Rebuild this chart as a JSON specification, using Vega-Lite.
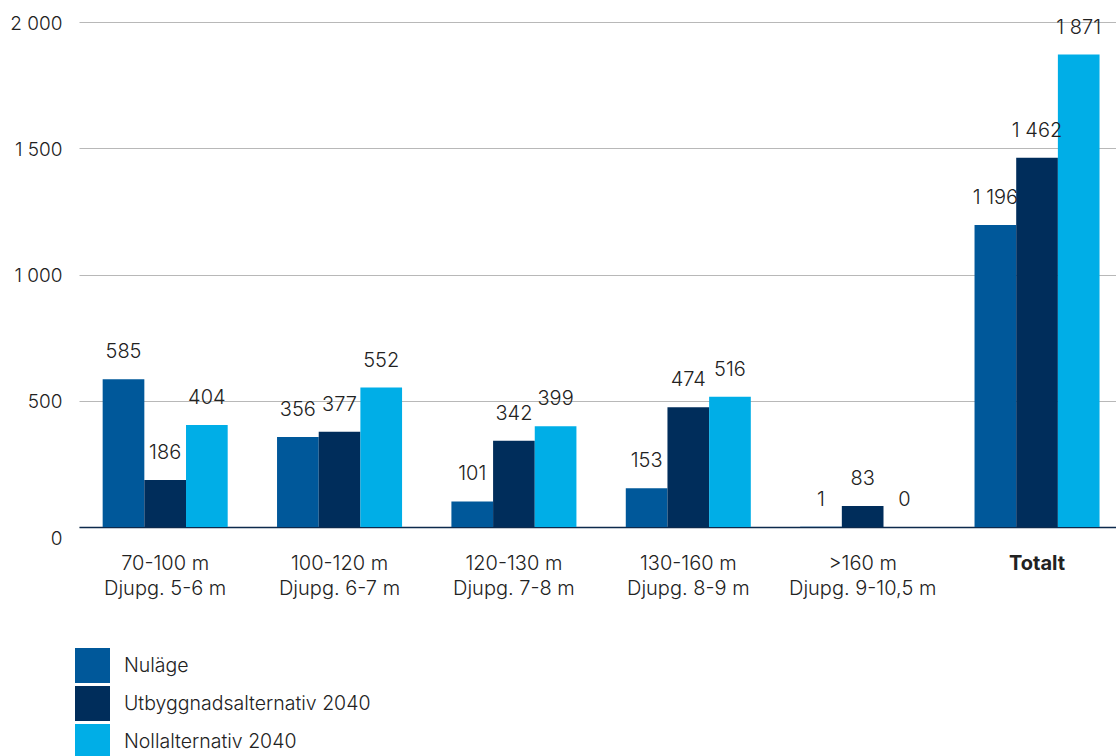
{
  "$schema": "https://vega.github.io/schema/vega-lite/v6.json",
  "width": 1037,
  "height": 505,
  "autosize": {"type": "none"},
  "padding": {"left": 79, "top": 22, "right": 0, "bottom": 229},
  "background": "white",
  "config": {
    "view": {"stroke": null},
    "font": "Inter",
    "locale": {"number": {"decimal": ",", "thousands": " ", "grouping": [3], "currency": ["", " kr"]}}
  },
  "data": {
    "values": [
      {"grupp": "70-100 m|Djupg. 5-6 m", "serie": "Nuläge", "antal": 585},
      {"grupp": "70-100 m|Djupg. 5-6 m", "serie": "Utbyggnadsalternativ 2040", "antal": 186},
      {"grupp": "70-100 m|Djupg. 5-6 m", "serie": "Nollalternativ 2040", "antal": 404},
      {"grupp": "100-120 m|Djupg. 6-7 m", "serie": "Nuläge", "antal": 356},
      {"grupp": "100-120 m|Djupg. 6-7 m", "serie": "Utbyggnadsalternativ 2040", "antal": 377},
      {"grupp": "100-120 m|Djupg. 6-7 m", "serie": "Nollalternativ 2040", "antal": 552},
      {"grupp": "120-130 m|Djupg. 7-8 m", "serie": "Nuläge", "antal": 101},
      {"grupp": "120-130 m|Djupg. 7-8 m", "serie": "Utbyggnadsalternativ 2040", "antal": 342},
      {"grupp": "120-130 m|Djupg. 7-8 m", "serie": "Nollalternativ 2040", "antal": 399},
      {"grupp": "130-160 m|Djupg. 8-9 m", "serie": "Nuläge", "antal": 153},
      {"grupp": "130-160 m|Djupg. 8-9 m", "serie": "Utbyggnadsalternativ 2040", "antal": 474},
      {"grupp": "130-160 m|Djupg. 8-9 m", "serie": "Nollalternativ 2040", "antal": 516},
      {"grupp": ">160 m|Djupg. 9-10,5 m", "serie": "Nuläge", "antal": 1},
      {"grupp": ">160 m|Djupg. 9-10,5 m", "serie": "Utbyggnadsalternativ 2040", "antal": 83},
      {"grupp": ">160 m|Djupg. 9-10,5 m", "serie": "Nollalternativ 2040", "antal": 0},
      {"grupp": "Totalt", "serie": "Nuläge", "antal": 1196},
      {"grupp": "Totalt", "serie": "Utbyggnadsalternativ 2040", "antal": 1462},
      {"grupp": "Totalt", "serie": "Nollalternativ 2040", "antal": 1871}
    ]
  },
  "encoding": {
    "x": {
      "field": "grupp",
      "type": "nominal",
      "sort": null,
      "title": null,
      "scale": {"paddingInner": 0.283, "paddingOuter": 0.115, "align": 0.59},
      "axis": {
        "labelExpr": "split(datum.label, '|')",
        "labelAngle": 0,
        "labelFont": "Inter",
        "labelFontSize": 20,
        "labelLineHeight": 25,
        "labelColor": "#222222",
        "labelFontWeight": {"condition": {"test": "datum.value === 'Totalt'", "value": "bold"}, "value": 300},
        "labelPadding": 26,
        "labelLimit": 0,
        "ticks": false,
        "domainColor": "#0d2a4d",
        "domainWidth": 1.5,
        "grid": false
      }
    },
    "xOffset": {
      "field": "serie",
      "type": "nominal",
      "sort": ["Nuläge", "Utbyggnadsalternativ 2040", "Nollalternativ 2040"]
    },
    "y": {
      "field": "antal",
      "type": "quantitative",
      "title": null,
      "scale": {"domain": [0, 2000]},
      "axis": {
        "values": [0, 500, 1000, 1500, 2000],
        "labelFont": "Inter",
        "labelFontSize": 19,
        "labelFontWeight": 300,
        "labelColor": "#222222",
        "labelPadding": 17,
        "labelOffset": {"condition": {"test": "datum.value === 0", "value": 11}, "value": 1},
        "ticks": false,
        "domain": false,
        "gridColor": "#b8b8b8",
        "gridWidth": 1.2
      }
    }
  },
  "layer": [
    {
      "mark": {"type": "bar"},
      "encoding": {
        "color": {
          "field": "serie",
          "type": "nominal",
          "sort": ["Nuläge", "Utbyggnadsalternativ 2040", "Nollalternativ 2040"],
          "scale": {
            "domain": ["Nuläge", "Utbyggnadsalternativ 2040", "Nollalternativ 2040"],
            "range": ["#00589a", "#002d5b", "#00aee7"]
          },
          "legend": {
            "title": null,
            "orient": "none",
            "legendX": -4,
            "legendY": 626,
            "direction": "vertical",
            "symbolType": "square",
            "symbolSize": 1225,
            "symbolStrokeWidth": 0,
            "labelFont": "Inter",
            "labelFontSize": 19.5,
            "labelFontWeight": 300,
            "labelColor": "#222222",
            "labelOffset": 14,
            "labelLimit": 0,
            "rowPadding": 3,
            "padding": 0
          }
        }
      }
    },
    {
      "mark": {"type": "text", "dy": -27, "fontSize": 20, "fontWeight": 300, "font": "Inter", "color": "#222222", "baseline": "middle"},
      "encoding": {
        "text": {"field": "antal", "type": "quantitative", "format": ",d"}
      }
    }
  ]
}
